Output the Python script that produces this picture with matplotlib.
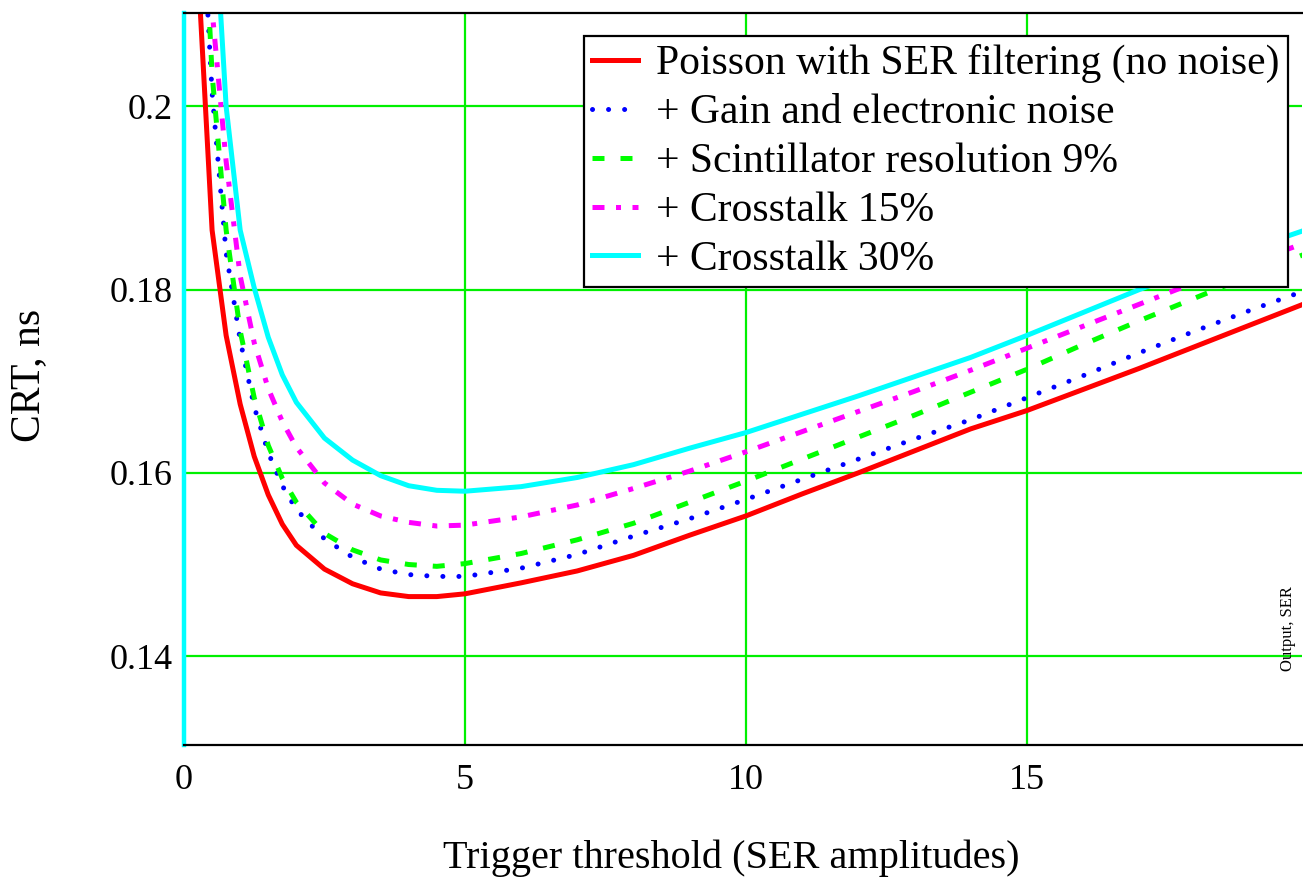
import numpy as np
import matplotlib
matplotlib.use("Agg")
import matplotlib.pyplot as plt

plt.rcParams['font.family'] = ['Liberation Serif', 'DejaVu Serif']

# trigger threshold, SER amplitudes
thr = [0.25, 0.5, 0.75, 1.0, 1.25, 1.5, 1.75, 2.0, 2.5, 3.0, 3.5, 4.0, 4.5, 5.0,
       6, 7, 8, 9, 10, 11, 12, 13, 14, 15, 16, 17, 18, 19, 20]

# CRT, ns
crt_poisson = [0.215, 0.1865, 0.175, 0.1675, 0.1618, 0.1576, 0.1544, 0.1521, 0.1495, 0.1479,
               0.1469, 0.1465, 0.1465, 0.1468, 0.1480, 0.1493, 0.1510, 0.1532, 0.1553, 0.1577,
               0.1600, 0.1624, 0.1648, 0.1668, 0.1691, 0.1714, 0.1738, 0.1762, 0.1786]
crt_gain = [0.23, 0.2015, 0.184, 0.1745, 0.1672, 0.1622, 0.1586, 0.1560, 0.1528, 0.1508,
            0.1495, 0.1489, 0.1487, 0.1487, 0.1496, 0.1511, 0.1531, 0.1550, 0.1571, 0.1593,
            0.1615, 0.1637, 0.1658, 0.1682, 0.1706, 0.1731, 0.1755, 0.1778, 0.1800]
crt_scint = [0.235, 0.2035, 0.1865, 0.1755, 0.1682, 0.1630, 0.1594, 0.1568, 0.1534, 0.1516,
             0.1505, 0.1500, 0.1498, 0.1501, 0.1512, 0.1527, 0.1545, 0.1568, 0.1591, 0.1615,
             0.1639, 0.1663, 0.1688, 0.1713, 0.1740, 0.1766, 0.1791, 0.1816, 0.1840]
crt_xt15 = [0.245, 0.2105, 0.194, 0.1815, 0.1742, 0.1692, 0.1656, 0.1628, 0.1589, 0.1566,
            0.1553, 0.1546, 0.1542, 0.1543, 0.1552, 0.1565, 0.1583, 0.1602, 0.1623, 0.1645,
            0.1667, 0.1689, 0.1712, 0.1736, 0.1760, 0.1784, 0.1808, 0.1830, 0.1852]
crt_xt30 = [0.26, 0.226, 0.2, 0.1865, 0.1802, 0.1748, 0.1707, 0.1677, 0.1638, 0.1614,
            0.1597, 0.1586, 0.1581, 0.1580, 0.1585, 0.1595, 0.1609, 0.1627, 0.1644, 0.1664,
            0.1684, 0.1705, 0.1726, 0.1750, 0.1775, 0.1800, 0.1823, 0.1845, 0.1866]

labels = ["Poisson with SER filtering (no noise)",
          "+ Gain and electronic noise",
          "+ Scintillator resolution 9%",
          "+ Crosstalk 15%",
          "+ Crosstalk 30%"]

fig = plt.figure(figsize=(13.03, 8.80), dpi=100)
ax = fig.add_axes([184/1303, 1 - 745/880, 1118/1303, 732/880])

lw = 3.6
ax.plot(thr, crt_poisson, color='#ff0000', lw=lw, label=labels[0])
ax.plot(thr, crt_gain, color='#0000ff', lw=lw, linestyle=(0, (0.01, 3.2)),
        dash_capstyle='round', label=labels[1])
ax.plot(thr, crt_scint, color='#00ff00', lw=lw, linestyle=(0, (2.4, 3.2)),
        dash_capstyle='butt', label=labels[2])
ax.plot(thr, crt_xt15, color='#ff00ff', lw=lw, linestyle=(0, (2.4, 2.3, 1, 2.3)),
        dash_capstyle='butt', label=labels[3])
ax.plot(thr, crt_xt30, color='#00ffff', lw=lw, label=labels[4])

ax.set_xlim(0, 19.9)
ax.set_ylim(0.1303, 0.2102)
ax.set_xticks([0, 5, 10, 15])
ax.set_yticks([0.14, 0.16, 0.18, 0.2])
ax.set_yticklabels(['0.14', '0.16', '0.18', '0.2'])
ax.tick_params(length=0, labelsize=26)
ax.tick_params(axis='x', pad=14)
ax.tick_params(axis='y', pad=8)
ax.grid(True, color='#00f000', lw=1.6)
ax.set_axisbelow(True)

ax.spines['right'].set_visible(False)
ax.spines['top'].set_linewidth(1.6)
ax.spines['bottom'].set_linewidth(1.6)
ax.spines['left'].set_color('#00ffff')
ax.spines['left'].set_linewidth(3.2)

ax.set_xlabel("Trigger threshold (SER amplitudes)", fontsize=29, va='center')
ax.xaxis.set_label_coords((731 - 184) / 1118, -(858 - 745) / 732)
ax.set_ylabel("CRT, ns", fontsize=30, va='center', ha='center')
ax.yaxis.set_label_coords((29 - 184) / 1118, (745 - 375) / 732)

leg = ax.legend(loc='upper right', bbox_to_anchor=((1288 - 184) / 1118, (745 - 36) / 732),
                borderaxespad=0, fontsize=30, frameon=True, fancybox=False,
                handlelength=1.1, handletextpad=0.43, labelspacing=0.25, borderpad=0.2)
leg.get_frame().set_edgecolor('black')
leg.get_frame().set_linewidth(1.6)
leg.get_frame().set_alpha(1)

fig.text(1288 / 1303, 1 - 629 / 880, "Output, SER", rotation=90, fontsize=12,
         ha='center', va='center')

fig.savefig("out.png", dpi=100)
